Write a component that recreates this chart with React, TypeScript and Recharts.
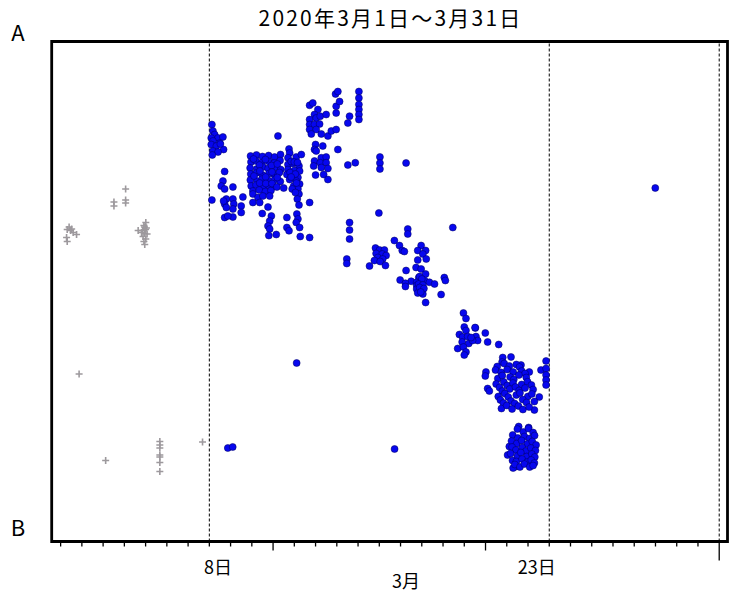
import { ReferenceArea, ReferenceLine, Scatter, ScatterChart, XAxis, YAxis } from "recharts";

type Pt = [number, number];

// x = day of March (tick at the start of each day), y = level from B (0) to A (100)
const X_DOMAIN: [number, number] = [0.58, 32.39];
const Y_DOMAIN: [number, number] = [0, 100];
const DAY_TICKS = [1, 2, 3, 4, 5, 6, 7, 8, 9, 10, 11, 12, 13, 14, 15, 16, 17, 18, 19, 20, 21, 22, 23, 24, 25, 26, 27, 28, 29, 30, 31, 32];
const MAJOR_DAYS = [11, 21];
const MONTH_END = 32;
const DAY_LABELS: Record<number, string> = { 8: "8日", 23: "23日" };
const DIVIDER_DAYS = [8, 24, 32];

const TITLE = "2020年3月1日～3月31日";
const X_TITLE = "3月";
const TOP_LABEL = "A";
const BOTTOM_LABEL = "B";

// before the 8th: grey crosses
const grayEarly: Pt[] = [
  [1.4, 62.9], [1.52, 62.5], [1.31, 62.4], [1.47, 62.2], [1.59, 61.8], [1.75, 61.4], [1.28, 60.8], [1.31, 60.0],
  [1.87, 33.5], [3.12, 16.2],
];
const grayMid: Pt[] = [
  [4.06, 70.5], [4.06, 68.3], [4.06, 67.7], [3.51, 67.9], [3.51, 67.1],
  [5.01, 63.8], [4.92, 63.2], [5.04, 62.7], [4.86, 62.2], [4.65, 62.2], [4.96, 61.6], [5.07, 61.5],
  [4.88, 61.0], [5.01, 60.5], [4.92, 60.0], [4.96, 59.4], [4.81, 61.8], [5.0, 62.4], [4.95, 62.9],
];
const grayLow: Pt[] = [
  [5.67, 20.0], [5.67, 19.3], [5.67, 18.7], [5.67, 17.3], [5.67, 16.9], [5.67, 15.8], [5.67, 14.0], [7.68, 19.9],
];

// from the 8th on: blue dots
const blueWeek2: Pt[] = [
  [8.12, 83.4], [8.17, 82.1], [8.25, 81.4], [8.09, 80.7], [8.41, 80.7], [8.64, 80.9], [8.17, 80.1], [8.49, 79.7],
  [8.09, 79.4], [8.33, 79.1], [8.67, 78.4], [8.17, 78.1], [8.41, 77.9], [8.14, 77.3], [8.52, 79.5], [8.12, 68.3],
  [8.72, 74.0], [8.64, 72.1], [8.56, 71.1], [8.72, 70.5], [9.11, 70.9], [8.8, 68.5], [8.72, 67.5], [9.11, 68.5],
  [9.15, 67.5], [9.58, 68.9], [9.5, 67.1], [8.8, 66.8], [9.11, 66.5], [9.5, 65.8], [9.11, 64.9], [8.72, 64.8],
  [8.87, 65.1], [8.67, 68.1],
  [9.94, 77.1], [10.22, 77.3], [10.5, 77.0], [10.79, 77.2], [11.07, 76.9], [11.35, 77.4],
  [9.96, 75.9], [10.2, 76.1], [10.48, 75.8], [10.8, 76.0], [11.05, 75.7], [11.33, 76.2],
  [9.92, 74.7], [10.24, 74.5], [10.52, 74.9], [10.77, 74.6], [11.09, 74.8], [11.36, 74.4],
  [9.95, 73.5], [10.21, 73.7], [10.5, 73.3], [10.81, 73.6], [11.06, 73.4], [11.3, 73.8],
  [9.93, 72.3], [10.25, 72.1], [10.49, 72.5], [10.78, 72.2], [11.08, 72.4], [11.34, 72.0],
  [9.97, 71.1], [10.2, 71.3], [10.53, 70.9], [10.8, 71.2], [11.04, 71.0],
  [10.05, 70.1], [10.35, 70.3], [10.64, 70.0], [10.9, 70.2],
  [10.08, 76.5], [10.36, 75.3], [10.64, 76.4], [10.93, 75.2], [11.2, 75.5], [10.1, 73.1], [10.38, 74.1],
  [10.65, 72.9], [10.95, 73.9], [11.2, 72.8], [10.37, 71.7], [10.66, 71.6], [10.95, 71.6],
  [10.05, 69.5], [10.29, 68.8], [10.52, 69.1], [10.84, 69.1], [10.05, 67.8], [10.37, 67.8], [10.76, 66.9],
  [10.49, 65.6], [10.92, 65.1], [10.84, 64.1], [10.76, 63.1], [10.84, 62.5], [10.8, 61.2], [11.15, 61.4],
  [11.18, 70.9], [11.5, 70.7], [11.23, 81.1],
  [11.75, 78.5], [11.78, 77.7], [11.7, 76.75], [12.09, 76.9], [12.33, 77.4], [11.7, 75.4], [11.93, 75.6],
  [12.22, 75.1], [11.7, 74.4], [12.01, 74.2], [12.25, 74.1], [11.65, 73.4], [11.91, 73.1], [12.17, 72.8],
  [11.78, 72.4], [12.09, 72.1], [12.25, 71.5], [11.97, 71.1], [12.17, 70.5], [12.22, 69.5], [12.14, 68.5],
  [12.22, 67.3], [11.85, 76.0], [12.0, 75.9], [12.15, 75.8], [11.8, 73.8], [12.05, 73.5], [11.85, 72.9],
  [12.1, 71.7], [11.9, 70.5], [12.05, 69.8],
  [11.65, 64.8], [12.12, 65.5], [12.17, 64.5], [11.65, 62.8], [12.09, 63.8], [12.25, 62.8], [11.75, 62.15],
  [12.28, 61.0], [12.72, 60.8], [12.72, 67.8],
];

const blueWeek3: Pt[] = [
  [12.72, 87.25], [12.87, 87.7], [13.11, 86.4], [12.95, 85.4], [12.72, 84.4], [13.03, 84.7], [13.22, 85.06],
  [12.72, 83.4], [12.95, 83.4], [13.19, 83.5], [12.72, 82.4], [13.03, 82.4], [12.8, 81.5], [13.27, 81.5],
  [13.5, 85.4], [13.58, 81.1], [13.74, 82.1], [13.97, 82.4], [13.97, 85.7], [13.97, 87.05], [14.13, 88.0],
  [13.94, 89.5], [14.05, 90.0], [14.52, 83.7], [14.6, 85.06],
  [15.04, 90.0], [15.04, 88.7], [15.04, 87.4], [15.04, 86.4], [15.04, 85.4], [15.04, 84.4],
  [13.0, 79.4], [13.34, 79.1], [12.95, 78.4], [13.03, 78.1], [13.27, 76.75], [13.5, 76.9], [12.95, 76.1],
  [13.22, 75.75], [13.5, 75.75], [12.91, 75.1], [13.27, 74.8], [13.58, 74.6], [13.0, 73.3], [13.38, 73.4],
  [13.58, 72.4], [14.05, 78.4], [14.52, 75.3], [14.87, 75.75],
  [16.03, 76.9], [16.03, 75.7], [16.03, 74.5], [17.26, 75.7],
  [14.6, 63.8], [14.6, 62.3], [14.6, 60.5], [14.47, 56.5], [14.47, 55.6], [15.98, 65.7],
  [17.34, 62.5], [17.34, 61.5], [19.46, 62.8],
  [16.71, 60.2], [16.95, 59.2], [17.08, 58.2], [17.18, 58.0],
  [15.82, 58.7], [16.01, 58.3], [16.24, 58.3], [15.85, 57.6], [16.14, 57.5], [16.32, 57.2], [15.93, 56.8],
  [16.16, 56.5], [15.77, 56.2], [16.04, 56.0], [16.29, 55.2], [15.54, 55.1],
  [17.97, 59.2], [17.81, 58.2], [18.18, 58.2], [18.05, 57.5], [17.81, 56.3], [18.21, 56.5],
  [17.73, 54.8], [17.97, 54.5], [17.26, 54.2], [18.18, 53.5], [17.86, 52.8], [16.98, 52.3], [17.5, 52.05],
  [17.23, 51.65], [17.76, 51.85], [18.13, 52.2], [18.36, 51.85], [18.6, 51.5], [17.23, 51.0], [17.76, 51.2],
  [17.97, 51.0], [17.76, 50.5], [18.02, 50.2], [17.81, 49.7], [18.05, 49.5], [18.91, 49.4], [18.18, 47.8],
  [19.06, 52.8], [19.11, 52.2], [17.9, 53.0], [18.0, 52.5], [17.85, 51.5], [18.05, 51.3], [17.9, 50.8],
  [18.1, 50.6], [17.95, 49.9],
];

const blueWeek4: Pt[] = [
  [19.96, 45.7], [20.08, 44.6], [20.0, 42.9], [20.08, 42.2], [19.77, 41.4], [19.92, 40.9], [20.16, 41.0],
  [20.52, 42.7], [20.55, 41.0], [20.63, 40.2], [20.99, 41.7], [21.1, 39.9], [19.9, 39.9], [20.21, 39.6],
  [20.39, 40.2], [19.69, 38.6], [19.96, 38.9], [20.08, 37.9], [20.0, 37.3], [20.51, 42.8], [21.62, 39.4],
  [20.32, 40.8],
  [21.81, 36.8], [22.2, 36.9], [21.78, 35.9], [22.67, 35.3], [21.02, 33.9], [20.99, 33.1], [21.1, 30.6],
  [21.18, 30.1], [23.06, 33.9], [23.61, 34.3], [23.53, 28.9], [23.3, 26.3],
  [23.85, 36.1], [23.85, 34.6], [23.85, 33.3], [23.85, 32.3], [23.85, 31.3],
  [21.55, 35.0], [21.88, 35.6], [22.12, 35.1], [22.45, 35.4], [22.6, 34.9],
  [21.47, 34.3], [21.74, 33.8], [22.02, 34.4], [22.3, 33.9], [22.7, 34.1], [22.86, 33.6],
  [21.58, 32.6], [21.79, 33.2], [22.16, 32.9], [22.33, 32.4], [22.57, 33.3], [22.92, 32.8],
  [21.5, 31.5], [21.86, 31.9], [22.02, 31.2], [22.29, 31.7], [22.7, 31.4], [22.98, 31.95], [23.16, 31.3],
  [21.66, 30.8], [21.79, 30.1], [22.14, 30.5], [22.41, 30.9], [22.58, 30.2], [22.86, 30.7], [23.24, 30.4],
  [21.6, 29.0], [21.91, 29.6], [22.07, 28.9], [22.45, 29.3], [22.62, 29.7], [22.99, 29.0], [23.18, 29.5],
  [21.7, 28.3], [21.84, 27.7], [22.2, 28.1], [22.37, 27.6], [22.75, 28.4], [22.93, 27.8], [23.3, 28.0],
  [21.75, 26.6], [22.0, 27.2], [22.25, 26.5], [22.55, 27.1], [22.76, 26.4], [23.05, 26.9],
  [22.56, 23.0], [23.03, 22.8], [22.12, 19.0], [22.04, 17.3], [22.44, 15.0], [22.3, 14.7],
  [22.5, 22.5], [22.78, 21.9], [23.02, 22.6], [23.24, 21.8],
  [22.28, 21.3], [22.52, 20.7], [22.83, 21.0], [23.07, 20.6], [23.31, 21.2],
  [22.22, 20.1], [22.47, 19.6], [22.7, 20.2], [22.97, 19.5], [23.2, 20.0], [23.38, 19.3],
  [22.25, 18.9], [22.43, 18.3], [22.73, 18.8], [22.9, 18.1], [23.13, 18.7], [23.35, 18.2],
  [22.18, 17.6], [22.5, 17.1], [22.66, 17.8], [22.94, 17.0], [23.18, 17.5], [23.32, 16.9],
  [22.27, 16.2], [22.45, 16.0], [22.72, 16.5], [22.97, 15.9], [23.15, 16.3], [23.3, 15.7],
  [22.38, 15.4], [22.62, 14.9], [22.83, 15.5], [23.08, 14.9], [23.24, 15.2],
];

const blueStray: Pt[] = [
  [28.99, 70.7], [12.11, 35.7], [8.87, 18.7], [9.1, 18.9], [16.72, 18.5],
];

const toRows = (pts: Pt[]) => pts.map(([day, level]) => ({ day, level }));

const grayRows = toRows([...grayEarly, ...grayMid, ...grayLow]);
const blueRows = toRows([...blueWeek2, ...blueWeek3, ...blueWeek4, ...blueStray]);

const FONT = "'Noto Sans CJK JP', 'Noto Sans', sans-serif";

function DayTick(props: any) {
  const { x, y, payload } = props;
  const d = payload.value as number;
  const len = d === MONTH_END ? 19 : MAJOR_DAYS.includes(d) ? 9 : 5;
  const label = DAY_LABELS[d];
  return (
    <g>
      <line x1={x} x2={x} y1={y} y2={y + len} stroke="#000" strokeWidth={1.3} />
      {label && (
        <text x={x + 8.7} y={y + 24} textAnchor="middle" dominantBaseline="central" fontSize={18} fontFamily={FONT} fill="#000">
          {label}
        </text>
      )}
    </g>
  );
}

const dot = (p: any) => (
  <circle cx={p.cx} cy={p.cy} r={3.5} fill="#0707ee" stroke="#00005a" strokeWidth={0.5} />
);

const cross = (p: any) => (
  <g stroke="#9d999d" strokeWidth={1.6}>
    <line x1={p.cx - 3.5} x2={p.cx + 3.5} y1={p.cy} y2={p.cy} />
    <line x1={p.cx} x2={p.cx} y1={p.cy - 3.5} y2={p.cy + 3.5} />
  </g>
);

function Text({ x, y, size, spacing = 0, children }: { x: number; y: number; size: number; spacing?: number; children: string }) {
  return (
    <div
      style={{
        position: "absolute",
        left: x,
        top: y,
        transform: "translate(-50%, -50%)",
        fontFamily: FONT,
        fontSize: size,
        letterSpacing: spacing,
        lineHeight: 1.2,
        whiteSpace: "nowrap",
        color: "#000",
      }}
    >
      {children}
    </div>
  );
}

export default function App() {
  return (
    <div style={{ position: "absolute", left: 0, top: 0, width: 734, height: 594, background: "#fff" }}>
      <ScatterChart width={734} height={594} margin={{ top: 41.5, right: 6.5, bottom: 32.5, left: 51.7 }}>
        <XAxis
          type="number"
          dataKey="day"
          domain={X_DOMAIN}
          ticks={DAY_TICKS}
          interval={0}
          allowDataOverflow
          axisLine={false}
          tickLine={false}
          tickSize={0}
          tickMargin={0}
          height={20}
          tick={<DayTick />}
        />
        <YAxis type="number" dataKey="level" domain={Y_DOMAIN} hide />
        {DIVIDER_DAYS.map((d) => (
          <ReferenceLine key={d} x={d} stroke="#000" strokeWidth={1} strokeDasharray="3 2" />
        ))}
        <Scatter data={grayRows} shape={cross} isAnimationActive={false} />
        <Scatter data={blueRows} shape={dot} isAnimationActive={false} />
        <ReferenceArea
          x1={X_DOMAIN[0]}
          x2={X_DOMAIN[1]}
          y1={Y_DOMAIN[0]}
          y2={Y_DOMAIN[1]}
          fill="none"
          stroke="#000"
          strokeWidth={2.8}
          ifOverflow="visible"
        />
      </ScatterChart>
      <Text x={390.5} y={18} size={21} spacing={2.2}>{TITLE}</Text>
      <Text x={18} y={31} size={22}>{TOP_LABEL}</Text>
      <Text x={18} y={526} size={22}>{BOTTOM_LABEL}</Text>
      <Text x={406} y={581} size={18}>{X_TITLE}</Text>
    </div>
  );
}
